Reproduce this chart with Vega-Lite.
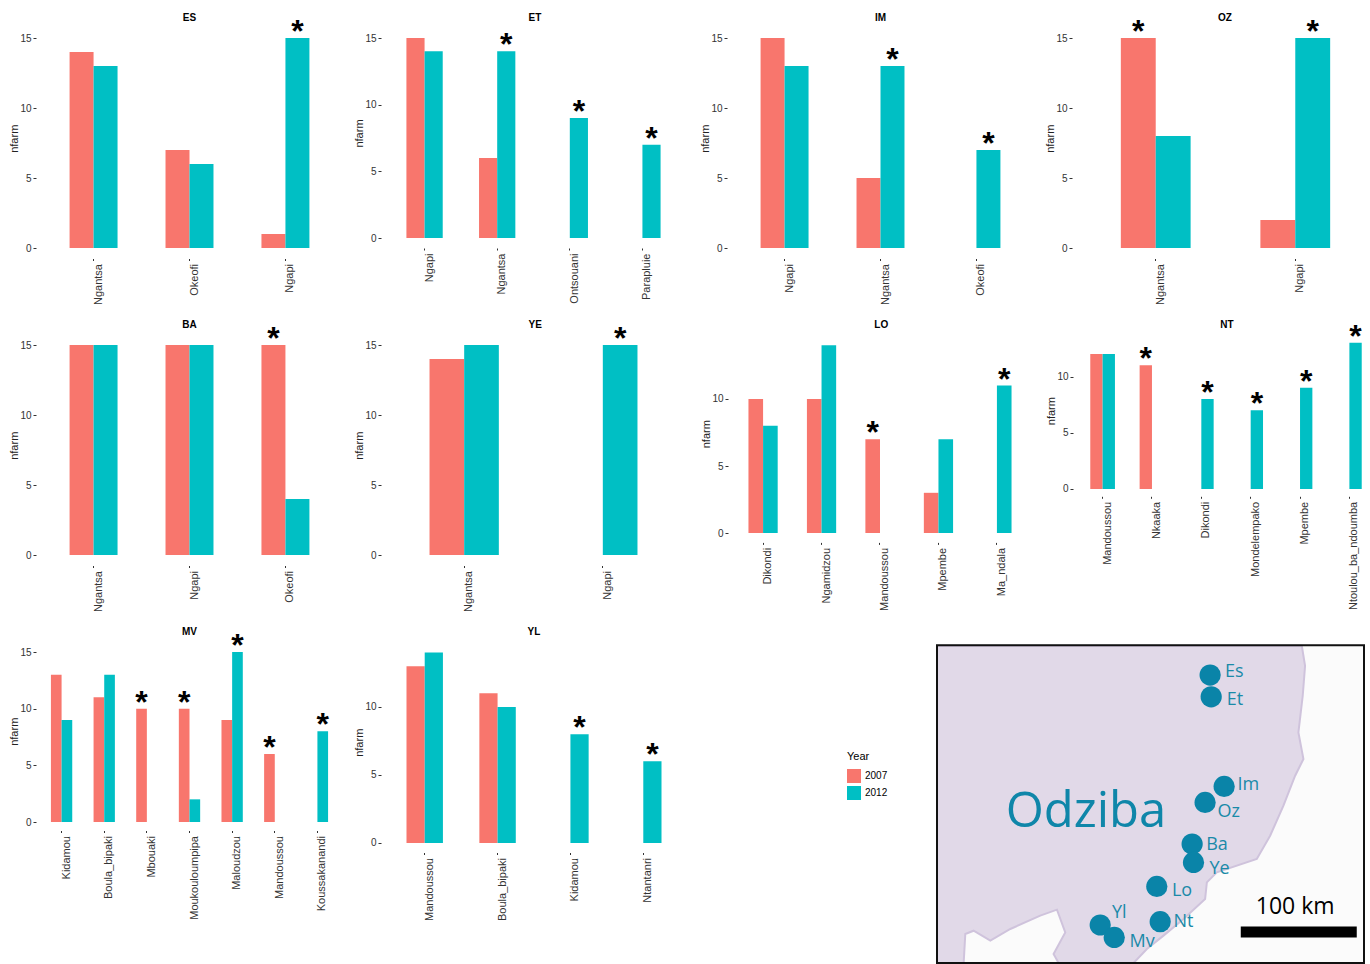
{"$schema":"https://vega.github.io/schema/vega-lite/v6.json","padding":{"left":8,"top":13,"right":0,"bottom":0},"background":"white","resolve":{"scale":{"xOffset":"independent"}},"datasets":{"farms":[
{"site":"ES","village":"Ngantsa","Year":2007,"nfarm":14,"star":false},{"site":"ES","village":"Ngantsa","Year":2012,"nfarm":13,"star":false},{"site":"ES","village":"Okeofi","Year":2007,"nfarm":7,"star":false},{"site":"ES","village":"Okeofi","Year":2012,"nfarm":6,"star":false},{"site":"ES","village":"Ngapi","Year":2007,"nfarm":1,"star":false},{"site":"ES","village":"Ngapi","Year":2012,"nfarm":15,"star":true},
{"site":"ET","village":"Ngapi","Year":2007,"nfarm":15,"star":false},{"site":"ET","village":"Ngapi","Year":2012,"nfarm":14,"star":false},{"site":"ET","village":"Ngantsa","Year":2007,"nfarm":6,"star":false},{"site":"ET","village":"Ngantsa","Year":2012,"nfarm":14,"star":true},{"site":"ET","village":"Ontsouani","Year":2012,"nfarm":9,"star":true},{"site":"ET","village":"Parapluie","Year":2012,"nfarm":7,"star":true},
{"site":"IM","village":"Ngapi","Year":2007,"nfarm":15,"star":false},{"site":"IM","village":"Ngapi","Year":2012,"nfarm":13,"star":false},{"site":"IM","village":"Ngantsa","Year":2007,"nfarm":5,"star":false},{"site":"IM","village":"Ngantsa","Year":2012,"nfarm":13,"star":true},{"site":"IM","village":"Okeofi","Year":2012,"nfarm":7,"star":true},
{"site":"OZ","village":"Ngantsa","Year":2007,"nfarm":15,"star":true},{"site":"OZ","village":"Ngantsa","Year":2012,"nfarm":8,"star":false},{"site":"OZ","village":"Ngapi","Year":2007,"nfarm":2,"star":false},{"site":"OZ","village":"Ngapi","Year":2012,"nfarm":15,"star":true},
{"site":"BA","village":"Ngantsa","Year":2007,"nfarm":15,"star":false},{"site":"BA","village":"Ngantsa","Year":2012,"nfarm":15,"star":false},{"site":"BA","village":"Ngapi","Year":2007,"nfarm":15,"star":false},{"site":"BA","village":"Ngapi","Year":2012,"nfarm":15,"star":false},{"site":"BA","village":"Okeofi","Year":2007,"nfarm":15,"star":true},{"site":"BA","village":"Okeofi","Year":2012,"nfarm":4,"star":false},
{"site":"YE","village":"Ngantsa","Year":2007,"nfarm":14,"star":false},{"site":"YE","village":"Ngantsa","Year":2012,"nfarm":15,"star":false},{"site":"YE","village":"Ngapi","Year":2012,"nfarm":15,"star":true},
{"site":"LO","village":"Dikondi","Year":2007,"nfarm":10,"star":false},{"site":"LO","village":"Dikondi","Year":2012,"nfarm":8,"star":false},{"site":"LO","village":"Ngamidzou","Year":2007,"nfarm":10,"star":false},{"site":"LO","village":"Ngamidzou","Year":2012,"nfarm":14,"star":false},{"site":"LO","village":"Mandoussou","Year":2007,"nfarm":7,"star":true},{"site":"LO","village":"Mpembe","Year":2007,"nfarm":3,"star":false},{"site":"LO","village":"Mpembe","Year":2012,"nfarm":7,"star":false},{"site":"LO","village":"Ma_ndala","Year":2012,"nfarm":11,"star":true},
{"site":"NT","village":"Mandoussou","Year":2007,"nfarm":12,"star":false},{"site":"NT","village":"Mandoussou","Year":2012,"nfarm":12,"star":false},{"site":"NT","village":"Nkaaka","Year":2007,"nfarm":11,"star":true},{"site":"NT","village":"Dikondi","Year":2012,"nfarm":8,"star":true},{"site":"NT","village":"Mondelempako","Year":2012,"nfarm":7,"star":true},{"site":"NT","village":"Mpembe","Year":2012,"nfarm":9,"star":true},{"site":"NT","village":"Ntoulou_ba_ndoumba","Year":2012,"nfarm":13,"star":true},
{"site":"MV","village":"Kidamou","Year":2007,"nfarm":13,"star":false},{"site":"MV","village":"Kidamou","Year":2012,"nfarm":9,"star":false},{"site":"MV","village":"Boula_bipaki","Year":2007,"nfarm":11,"star":false},{"site":"MV","village":"Boula_bipaki","Year":2012,"nfarm":13,"star":false},{"site":"MV","village":"Mbouaki","Year":2007,"nfarm":10,"star":true},{"site":"MV","village":"Moukouloumpipa","Year":2007,"nfarm":10,"star":true},{"site":"MV","village":"Moukouloumpipa","Year":2012,"nfarm":2,"star":false},{"site":"MV","village":"Maloudzou","Year":2007,"nfarm":9,"star":false},{"site":"MV","village":"Maloudzou","Year":2012,"nfarm":15,"star":true},{"site":"MV","village":"Mandoussou","Year":2007,"nfarm":6,"star":true},{"site":"MV","village":"Koussakanandi","Year":2012,"nfarm":8,"star":true},
{"site":"YL","village":"Mandoussou","Year":2007,"nfarm":13,"star":false},{"site":"YL","village":"Mandoussou","Year":2012,"nfarm":14,"star":false},{"site":"YL","village":"Boula_bipaki","Year":2007,"nfarm":11,"star":false},{"site":"YL","village":"Boula_bipaki","Year":2012,"nfarm":10,"star":false},{"site":"YL","village":"Kidamou","Year":2012,"nfarm":8,"star":true},{"site":"YL","village":"Ntantanri","Year":2012,"nfarm":6,"star":true}
]},
"spacing":15,
"vconcat":[
{"spacing":15,"resolve":{"scale":{"xOffset":"independent"}},"vconcat":[
{"spacing":10,"resolve":{"scale":{"xOffset":"independent"}},"hconcat":[
{"title":"ES","width":307,"height":240.5,"data":{"name":"farms"},"transform":[{"filter":"datum.site==='ES'"}],"encoding":{"x":{"field":"village","type":"nominal","title":null,"scale":{"domain":["Ngantsa","Okeofi","Ngapi"],"paddingInner":0.5,"paddingOuter":0.35}},"xOffset":{"field":"Year","type":"nominal","scale":{"domain":[2007,2012]}},"y":{"field":"nfarm","type":"quantitative","stack":null,"title":"nfarm","scale":{"domain":[-0.75,16.43],"nice":false,"zero":false},"axis":{"values":[0,5,10,15]}},"color":{"field":"Year","type":"nominal","scale":{"domain":[2007,2012],"range":["#F8766D","#00BFC4"]},"legend":{"orient":"none","legendX":811,"legendY":733}}},"layer":[{"mark":"bar"},{"transform":[{"filter":"datum.star"}],"mark":{"type":"text","text":"*","fontSize":32,"fontWeight":"bold","baseline":"alphabetic","dy":4,"clip":true},"encoding":{"color":{"value":"#000"}}}]},
{"title":"ET","width":308,"height":230,"data":{"name":"farms"},"transform":[{"filter":"datum.site==='ET'"}],"encoding":{"x":{"field":"village","type":"nominal","title":null,"scale":{"domain":["Ngapi","Ngantsa","Ontsouani","Parapluie"],"paddingInner":0.5,"paddingOuter":0.35,"range":[0,305]}},"xOffset":{"field":"Year","type":"nominal","scale":{"domain":[2007,2012]}},"y":{"field":"nfarm","type":"quantitative","stack":null,"title":"nfarm","scale":{"domain":[-0.75,16.5],"nice":false,"zero":false},"axis":{"values":[0,5,10,15]}},"color":{"field":"Year","type":"nominal","scale":{"domain":[2007,2012],"range":["#F8766D","#00BFC4"]},"legend":{"orient":"none","legendX":811,"legendY":733}}},"layer":[{"mark":"bar"},{"transform":[{"filter":"datum.star"}],"mark":{"type":"text","text":"*","fontSize":32,"fontWeight":"bold","baseline":"alphabetic","dy":4,"clip":true},"encoding":{"color":{"value":"#000"}}}]},
{"title":"IM","width":307,"height":240.5,"data":{"name":"farms"},"transform":[{"filter":"datum.site==='IM'"}],"encoding":{"x":{"field":"village","type":"nominal","title":null,"scale":{"domain":["Ngapi","Ngantsa","Okeofi"],"paddingInner":0.5,"paddingOuter":0.35}},"xOffset":{"field":"Year","type":"nominal","scale":{"domain":[2007,2012]}},"y":{"field":"nfarm","type":"quantitative","stack":null,"title":"nfarm","scale":{"domain":[-0.75,16.43],"nice":false,"zero":false},"axis":{"values":[0,5,10,15]}},"color":{"field":"Year","type":"nominal","scale":{"domain":[2007,2012],"range":["#F8766D","#00BFC4"]},"legend":{"orient":"none","legendX":811,"legendY":733}}},"layer":[{"mark":"bar"},{"transform":[{"filter":"datum.star"}],"mark":{"type":"text","text":"*","fontSize":32,"fontWeight":"bold","baseline":"alphabetic","dy":4,"clip":true},"encoding":{"color":{"value":"#000"}}}]},
{"title":{"text":"OZ","dx":8},"width":290,"height":240.5,"data":{"name":"farms"},"transform":[{"filter":"datum.site==='OZ'"}],"encoding":{"x":{"field":"village","type":"nominal","title":null,"scale":{"domain":["Ngantsa","Ngapi"],"paddingInner":0.5,"paddingOuter":0.35,"range":[0,307]}},"xOffset":{"field":"Year","type":"nominal","scale":{"domain":[2007,2012]}},"y":{"field":"nfarm","type":"quantitative","stack":null,"title":"nfarm","scale":{"domain":[-0.75,16.43],"nice":false,"zero":false},"axis":{"values":[0,5,10,15]}},"color":{"field":"Year","type":"nominal","scale":{"domain":[2007,2012],"range":["#F8766D","#00BFC4"]},"legend":{"orient":"none","legendX":811,"legendY":733}}},"layer":[{"mark":"bar"},{"transform":[{"filter":"datum.star"}],"mark":{"type":"text","text":"*","fontSize":32,"fontWeight":"bold","baseline":"alphabetic","dy":4,"clip":true},"encoding":{"color":{"value":"#000"}}}]}
]},
{"spacing":10,"resolve":{"scale":{"xOffset":"independent"}},"hconcat":[
{"title":"BA","width":307,"height":240.5,"data":{"name":"farms"},"transform":[{"filter":"datum.site==='BA'"}],"encoding":{"x":{"field":"village","type":"nominal","title":null,"scale":{"domain":["Ngantsa","Ngapi","Okeofi"],"paddingInner":0.5,"paddingOuter":0.35}},"xOffset":{"field":"Year","type":"nominal","scale":{"domain":[2007,2012]}},"y":{"field":"nfarm","type":"quantitative","stack":null,"title":"nfarm","scale":{"domain":[-0.75,16.43],"nice":false,"zero":false},"axis":{"values":[0,5,10,15]}},"color":{"field":"Year","type":"nominal","scale":{"domain":[2007,2012],"range":["#F8766D","#00BFC4"]},"legend":{"orient":"none","legendX":811,"legendY":733}}},"layer":[{"mark":"bar"},{"transform":[{"filter":"datum.star"}],"mark":{"type":"text","text":"*","fontSize":32,"fontWeight":"bold","baseline":"alphabetic","dy":4,"clip":true},"encoding":{"color":{"value":"#000"}}}]},
{"title":"YE","width":308.5,"height":240.5,"data":{"name":"farms"},"transform":[{"filter":"datum.site==='YE'"}],"encoding":{"x":{"field":"village","type":"nominal","title":null,"scale":{"domain":["Ngantsa","Ngapi"],"paddingInner":0.5,"paddingOuter":0.35,"range":[0,305]}},"xOffset":{"field":"Year","type":"nominal","scale":{"domain":[2007,2012]}},"y":{"field":"nfarm","type":"quantitative","stack":null,"title":"nfarm","scale":{"domain":[-0.75,16.43],"nice":false,"zero":false},"axis":{"values":[0,5,10,15]}},"color":{"field":"Year","type":"nominal","scale":{"domain":[2007,2012],"range":["#F8766D","#00BFC4"]},"legend":{"orient":"none","legendX":811,"legendY":733}}},"layer":[{"mark":"bar"},{"transform":[{"filter":"datum.star"}],"mark":{"type":"text","text":"*","fontSize":32,"fontWeight":"bold","baseline":"alphabetic","dy":4,"clip":true},"encoding":{"color":{"value":"#000"}}}]},
{"title":"LO","width":306.5,"height":217.4,"data":{"name":"farms"},"transform":[{"filter":"datum.site==='LO'"}],"encoding":{"x":{"field":"village","type":"nominal","title":null,"scale":{"domain":["Dikondi","Ngamidzou","Mandoussou","Mpembe","Ma_ndala"],"paddingInner":0.5,"paddingOuter":0.35,"range":[0,304]}},"xOffset":{"field":"Year","type":"nominal","scale":{"domain":[2007,2012]}},"y":{"field":"nfarm","type":"quantitative","stack":null,"title":"nfarm","scale":{"domain":[-0.7,15.52],"nice":false,"zero":false},"axis":{"values":[0,5,10]}},"color":{"field":"Year","type":"nominal","scale":{"domain":[2007,2012],"range":["#F8766D","#00BFC4"]},"legend":{"orient":"none","legendX":811,"legendY":733}}},"layer":[{"mark":"bar"},{"transform":[{"filter":"datum.star"}],"mark":{"type":"text","text":"*","fontSize":32,"fontWeight":"bold","baseline":"alphabetic","dy":4,"clip":true},"encoding":{"color":{"value":"#000"}}}]},
{"title":{"text":"NT","dx":8},"width":292,"height":171.3,"data":{"name":"farms"},"transform":[{"filter":"datum.site==='NT'"}],"encoding":{"x":{"field":"village","type":"nominal","title":null,"scale":{"domain":["Mandoussou","Nkaaka","Dikondi","Mondelempako","Mpembe","Ntoulou_ba_ndoumba"],"paddingInner":0.5,"paddingOuter":0.35,"range":[0,306]}},"xOffset":{"field":"Year","type":"nominal","scale":{"domain":[2007,2012]}},"y":{"field":"nfarm","type":"quantitative","stack":null,"title":"nfarm","scale":{"domain":[-0.65,14.58],"nice":false,"zero":false},"axis":{"values":[0,5,10]}},"color":{"field":"Year","type":"nominal","scale":{"domain":[2007,2012],"range":["#F8766D","#00BFC4"]},"legend":{"orient":"none","legendX":811,"legendY":733}}},"layer":[{"mark":"bar"},{"transform":[{"filter":"datum.star"}],"mark":{"type":"text","text":"*","fontSize":32,"fontWeight":"bold","baseline":"alphabetic","dy":4,"clip":true},"encoding":{"color":{"value":"#000"}}}]}
]}
]},
{"spacing":246,"resolve":{"scale":{"xOffset":"independent"}},"hconcat":[
{"spacing":10,"resolve":{"scale":{"xOffset":"independent"}},"hconcat":[
{"title":"MV","width":307,"height":198.5,"data":{"name":"farms"},"transform":[{"filter":"datum.site==='MV'"}],"encoding":{"x":{"field":"village","type":"nominal","title":null,"scale":{"domain":["Kidamou","Boula_bipaki","Mbouaki","Moukouloumpipa","Maloudzou","Mandoussou","Koussakanandi"],"paddingInner":0.5,"paddingOuter":0.35}},"xOffset":{"field":"Year","type":"nominal","scale":{"domain":[2007,2012]}},"y":{"field":"nfarm","type":"quantitative","stack":null,"title":"nfarm","scale":{"domain":[-0.75,16.77],"nice":false,"zero":false},"axis":{"values":[0,5,10,15]}},"color":{"field":"Year","type":"nominal","scale":{"domain":[2007,2012],"range":["#F8766D","#00BFC4"]},"legend":{"orient":"none","legendX":811,"legendY":733}}},"layer":[{"mark":"bar"},{"transform":[{"filter":"datum.star"}],"mark":{"type":"text","text":"*","fontSize":32,"fontWeight":"bold","baseline":"alphabetic","dy":4,"clip":true},"encoding":{"color":{"value":"#000"}}}]},
{"title":"YL","width":306,"height":220.5,"data":{"name":"farms"},"transform":[{"filter":"datum.site==='YL'"}],"encoding":{"x":{"field":"village","type":"nominal","title":null,"scale":{"domain":["Mandoussou","Boula_bipaki","Kidamou","Ntantanri"],"paddingInner":0.5,"paddingOuter":0.35}},"xOffset":{"field":"Year","type":"nominal","scale":{"domain":[2007,2012]}},"y":{"field":"nfarm","type":"quantitative","stack":null,"title":"nfarm","scale":{"domain":[-0.7,15.51],"nice":false,"zero":false},"axis":{"values":[0,5,10]}},"color":{"field":"Year","type":"nominal","scale":{"domain":[2007,2012],"range":["#F8766D","#00BFC4"]},"legend":{"orient":"none","legendX":811,"legendY":733}}},"layer":[{"mark":"bar"},{"transform":[{"filter":"datum.star"}],"mark":{"type":"text","text":"*","fontSize":32,"fontWeight":"bold","baseline":"alphabetic","dy":4,"clip":true},"encoding":{"color":{"value":"#000"}}}]}
]},
{"width":427,"height":331,"layer":[
{"data":{"values":[{"e0":0,"e1":365.2,"n0":0,"n1":271.7}]},"mark":{"type":"rect","color":"#fbfbfb"},"encoding":{"x":{"field":"e0","type":"quantitative","axis":null,"scale":{"domain":[0,365.2],"nice":false,"zero":false}},"x2":{"field":"e1"},"y":{"field":"n0","type":"quantitative","axis":null,"scale":{"domain":[0,283],"nice":false,"zero":false}},"y2":{"field":"n1"}}},
{"data":{"values":[{"i":0,"km_e":0,"km_n":0},{"i":1,"km_e":0,"km_n":271.2},{"i":2,"km_e":312,"km_n":271.2},{"i":3,"km_e":314.8,"km_n":254.1},{"i":4,"km_e":312.8,"km_n":228.5},{"i":5,"km_e":309.1,"km_n":197.2},{"i":6,"km_e":313.4,"km_n":174.4},{"i":7,"km_e":306.3,"km_n":160.1},{"i":8,"km_e":296.3,"km_n":134.5},{"i":9,"km_e":284.9,"km_n":108.8},{"i":10,"km_e":273.5,"km_n":88.9},{"i":11,"km_e":239.3,"km_n":77.5},{"i":12,"km_e":230.8,"km_n":68.9},{"i":13,"km_e":229.3,"km_n":54.7},{"i":14,"km_e":210.8,"km_n":37.6},{"i":15,"km_e":193.7,"km_n":23.4},{"i":16,"km_e":179.5,"km_n":12},{"i":17,"km_e":168.1,"km_n":0},{"i":18,"km_e":104,"km_n":0},{"i":19,"km_e":99.7,"km_n":7.7},{"i":20,"km_e":109.7,"km_n":26.2},{"i":21,"km_e":102.6,"km_n":45.6},{"i":22,"km_e":88.3,"km_n":40.5},{"i":23,"km_e":62.7,"km_n":29.1},{"i":24,"km_e":45.6,"km_n":19.1},{"i":25,"km_e":31.3,"km_n":27.6},{"i":26,"km_e":24.2,"km_n":24.8},{"i":27,"km_e":22.8,"km_n":0},{"i":28,"km_e":0,"km_n":0}]},"mark":{"type":"line","fill":"#e1d9e8","stroke":"#cfc3dc","strokeWidth":2,"interpolate":"linear"},"encoding":{"x":{"field":"km_e","type":"quantitative","axis":null,"scale":{"domain":[0,365.2],"nice":false,"zero":false}},"y":{"field":"km_n","type":"quantitative","axis":null,"scale":{"domain":[0,283],"nice":false,"zero":false}},"order":{"field":"i","type":"quantitative"}}},
{"data":{"values":[{"name":"Es","km_e":233.6,"km_n":246.2},{"name":"Et","km_e":234.5,"km_n":227.6},{"name":"Im","km_e":245.6,"km_n":151},{"name":"Oz","km_e":229.3,"km_n":137.3},{"name":"Ba","km_e":218.2,"km_n":101.7},{"name":"Ye","km_e":219.4,"km_n":86},{"name":"Lo","km_e":188,"km_n":65.5},{"name":"Nt","km_e":190.9,"km_n":35.3},{"name":"Yl","km_e":139.6,"km_n":32.5},{"name":"Mv","km_e":151.6,"km_n":21.9}]},"mark":{"type":"point","shape":"circle","filled":true,"opacity":1,"size":450,"color":"#0a84a8"},"encoding":{"x":{"field":"km_e","type":"quantitative","axis":null,"scale":{"domain":[0,365.2],"nice":false,"zero":false}},"y":{"field":"km_n","type":"quantitative","axis":null,"scale":{"domain":[0,283],"nice":false,"zero":false}}}},
{"data":{"values":[{"name":"Es","km_e":246.4,"km_n":249},{"name":"Et","km_e":247.9,"km_n":224.8},{"name":"Im","km_e":257,"km_n":152.1},{"name":"Oz","km_e":239.9,"km_n":128.8},{"name":"Ba","km_e":230.2,"km_n":101.1},{"name":"Ye","km_e":233,"km_n":80.3},{"name":"Lo","km_e":200.9,"km_n":61.8},{"name":"Nt","km_e":202.3,"km_n":34.8},{"name":"Yl","km_e":149.6,"km_n":42.7},{"name":"Mv","km_e":164.7,"km_n":18.2}]},"mark":{"type":"text","align":"left","baseline":"middle","font":"Open Sans","fontSize":18,"color":"#1a8aa8"},"encoding":{"x":{"field":"km_e","type":"quantitative","axis":null,"scale":{"domain":[0,365.2],"nice":false,"zero":false}},"y":{"field":"km_n","type":"quantitative","axis":null,"scale":{"domain":[0,283],"nice":false,"zero":false}},"text":{"field":"name"}}},
{"data":{"values":[{"name":"Odziba","km_e":58.7,"km_n":129}]},"mark":{"type":"text","align":"left","baseline":"middle","font":"Open Sans","fontSize":49,"color":"#0f86a9"},"encoding":{"x":{"field":"km_e","type":"quantitative","axis":null,"scale":{"domain":[0,365.2],"nice":false,"zero":false}},"y":{"field":"km_n","type":"quantitative","axis":null,"scale":{"domain":[0,283],"nice":false,"zero":false}},"text":{"field":"name"}}},
{"data":{"values":[{"name":"100 km","km_e":306.3,"km_n":47.5}]},"mark":{"type":"text","align":"center","baseline":"middle","font":"Open Sans","fontSize":23,"color":"#000"},"encoding":{"x":{"field":"km_e","type":"quantitative","axis":null,"scale":{"domain":[0,365.2],"nice":false,"zero":false}},"y":{"field":"km_n","type":"quantitative","axis":null,"scale":{"domain":[0,283],"nice":false,"zero":false}},"text":{"field":"name"}}},
{"data":{"values":[{"e0":259.8,"e1":359,"n0":21.7,"n1":31.3}]},"mark":{"type":"rect","color":"#000"},"encoding":{"x":{"field":"e0","type":"quantitative","axis":null,"scale":{"domain":[0,365.2],"nice":false,"zero":false}},"x2":{"field":"e1"},"y":{"field":"n0","type":"quantitative","axis":null,"scale":{"domain":[0,283],"nice":false,"zero":false}},"y2":{"field":"n1"}}},
{"data":{"values":[{"e0":0,"e1":365.2,"n0":0,"n1":271.7}]},"mark":{"type":"rect","fillOpacity":0,"stroke":"#111","strokeWidth":2},"encoding":{"x":{"field":"e0","type":"quantitative","axis":null,"scale":{"domain":[0,365.2],"nice":false,"zero":false}},"x2":{"field":"e1"},"y":{"field":"n0","type":"quantitative","axis":null,"scale":{"domain":[0,283],"nice":false,"zero":false}},"y2":{"field":"n1"}}}
]}
]}
],
"config":{"view":{"stroke":null},"font":"Liberation Sans","title":{"fontSize":10,"fontWeight":"bold","color":"#000","font":"Liberation Sans","offset":-5,"anchor":"middle"},"axis":{"domain":false,"grid":false,"labelFont":"Liberation Sans","titleFont":"Liberation Sans","labelColor":"#333","tickColor":"#333","tickSize":3,"labelFontSize":10,"titleFontSize":11,"titleFontWeight":"normal","titleColor":"#222","labelPadding":2,"titlePadding":0},"axisX":{"labelAngle":-90,"labelOffset":5,"labelFontSize":11,"labelOverlap":false,"labelLimit":200,"labelBound":false,"tickSize":2,"labelPadding":3},"legend":{"symbolType":"square","symbolSize":196,"symbolStrokeWidth":0,"titleFontWeight":"normal","titleFontSize":11,"labelFontSize":10,"titleFont":"Liberation Sans","labelFont":"Liberation Sans","rowPadding":3,"titlePadding":7}}}
